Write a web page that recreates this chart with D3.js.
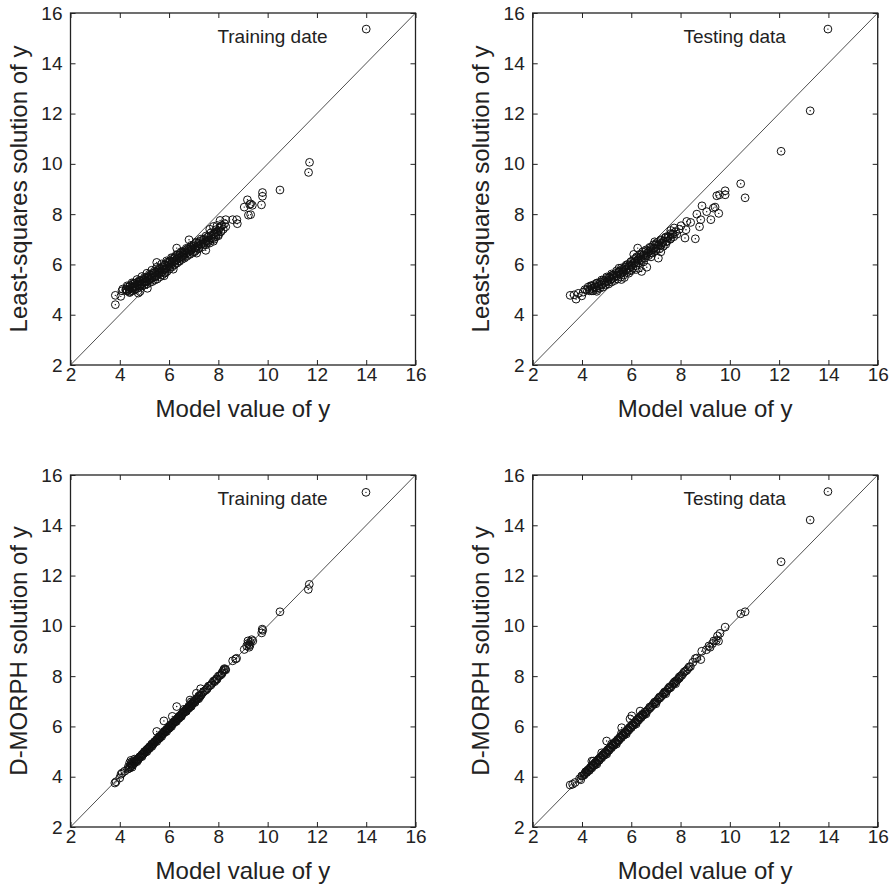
<!DOCTYPE html>
<html>
<head>
<meta charset="utf-8">
<script src="https://cdn.jsdelivr.net/npm/d3@7"></script>
<style>
  html, body { margin: 0; padding: 0; background: #fff; }
  svg { display: block; font-family: "Liberation Sans", Arial, Helvetica, sans-serif; }
</style>
</head>
<body>
<svg id="chart" width="895" height="889"></svg>
<script>
// ---------------- data ----------------
const tickValues = [2, 4, 6, 8, 10, 12, 14, 16];
const axisDomain = [2, 16];
const xTitle = "Model value of y";
const yTitles = ["Least-squares solution of y", "Least-squares solution of y", "D-MORPH solution of y", "D-MORPH solution of y"];
const notes = ["Training date", "Testing data", "Training date", "Testing data"];

// [model value, solution value]
const lsTraining = [
  [14.0,15.36],[11.70,10.06],[11.66,9.66],[10.5,8.96],[9.79,8.86],[9.79,8.71],[9.75,8.37],[9.18,8.57],
  [9.05,8.28],[9.31,8.41],[9.38,8.35],[9.27,8.38],[9.22,7.96],[9.31,7.98],[8.75,7.78],[8.77,7.62],
  [8.58,7.78],[8.30,7.78],[8.07,7.75],[7.80,7.51],[7.49,6.56],[7.12,6.45],[6.81,6.98],[6.31,6.65],
  [6.17,5.81],[5.80,5.55],[5.85,5.68],[5.50,6.08],[4.75,4.86],[3.82,4.40],[3.82,4.77],[4.04,4.73],
  [4.09,4.95],[4.25,4.99],[4.12,5.02],
  [4.25,5.02],[4.30,4.95],[4.32,5.10],[4.38,5.00],[4.40,4.88],[4.42,5.15],[4.48,5.05],[4.50,4.95],
  [4.52,5.20],[4.55,5.10],[4.60,4.98],[4.62,5.25],[4.65,5.12],[4.70,5.05],[4.72,5.30],[4.75,5.18],
  [4.80,5.10],[4.82,4.92],[4.85,5.35],[4.88,5.22],[4.90,5.15],[4.95,5.40],[4.98,5.28],[5.00,5.18],
  [5.05,5.45],[5.08,5.32],[5.10,5.22],[5.12,5.05],[5.15,5.50],[5.20,5.38],[5.22,5.28],[5.25,5.58],
  [5.30,5.45],[5.32,5.32],[5.35,5.65],[5.40,5.50],[5.42,5.38],[5.45,5.70],[5.50,5.55],[5.52,5.42],
  [5.55,5.75],[5.60,5.62],[5.62,5.50],[5.65,5.85],[5.70,5.70],[5.72,5.58],[5.75,5.90],[5.80,5.78],
  [5.82,5.65],[5.85,5.98],[5.90,5.85],[5.92,5.72],[5.95,6.10],[6.00,5.95],[6.02,5.82],[6.05,6.15],
  [6.10,6.02],[6.12,5.90],[6.15,6.25],[6.20,6.10],[6.22,5.98],[6.25,6.30],[6.30,6.18],[6.32,6.05],
  [6.35,6.38],[6.40,6.25],[6.42,6.12],[6.45,6.45],[6.50,6.32],[6.52,6.20],[6.55,6.50],[6.60,6.40],
  [6.62,6.25],[6.65,6.55],[6.70,6.45],[6.72,6.32],[6.75,6.62],[6.80,6.52],[6.85,6.40],[6.88,6.70],
  [6.90,6.60],[6.95,6.48],[7.00,6.78],[7.05,6.65],[7.08,6.55],[7.10,6.85],[7.15,6.72],[7.20,6.62],
  [7.25,6.92],[7.30,6.80],[7.35,6.70],[7.40,7.00],[7.45,6.88],[7.50,6.78],[7.55,7.08],[7.60,6.95],
  [7.65,6.85],[7.70,7.15],[7.75,7.02],[7.80,6.92],[7.85,7.22],[7.90,7.10],[7.95,7.30],[8.00,7.18],
  [8.05,7.45],[8.10,7.30],[8.15,7.55],[8.20,7.40],[8.25,7.62],[8.30,7.50],[7.65,7.40],[7.95,7.55],
  [5.00,5.30],[5.30,5.50],[5.60,5.70],[6.00,6.05],[6.30,6.20],[6.60,6.45],[6.90,6.65],[4.55,5.25],
  [4.40,4.91],[4.62,5.02],[4.80,5.16],[5.03,5.30],[5.20,5.41],[5.43,5.51],[5.60,5.66],[5.78,5.80],
  [6.00,5.90],[6.23,6.01],[6.40,6.15],[6.58,6.30],[6.80,6.40],[7.03,6.50],[7.20,6.65],[7.42,6.79],
  [7.60,6.90],[7.83,7.00],[8.00,7.14],
  [4.30,4.95],[4.50,5.07],[4.70,5.20],[4.90,5.32],[5.10,5.45],[5.30,5.57],[5.50,5.69],[5.70,5.82],
  [5.90,5.94],[6.10,6.07],[6.30,6.19],[6.50,6.31],[6.70,6.44],[6.90,6.56],[7.10,6.69],[7.30,6.81],
  [7.50,6.93],[7.70,7.06],[7.90,7.18],[8.10,7.31],
  [4.40,5.11],[4.60,5.24],[4.80,5.36],[5.00,5.48],[5.20,5.61],[5.40,5.73],[5.60,5.86],[5.80,5.98],
  [6.00,6.10],[6.20,6.23],[6.40,6.35],[6.60,6.48],[6.80,6.60],[7.00,6.72],[7.20,6.85],[7.40,6.97],
  [7.60,7.10],[7.80,7.22],[8.00,7.34],
  [4.30,5.15],[4.50,5.27],[4.70,5.40],[4.90,5.52],[5.10,5.65],[5.30,5.77],[5.50,5.89],[5.70,6.02],
  [5.90,6.14],[6.10,6.27],[6.30,6.39],[6.50,6.51],[6.70,6.64],[6.90,6.76],[7.10,6.89],[7.30,7.01],
  [7.50,7.13],[7.70,7.26],[7.90,7.38],[8.10,7.51]
];

const lsTesting = [
  [13.98,15.36],[13.26,12.11],[12.08,10.50],[10.44,9.21],[10.62,8.65],[9.81,8.93],[9.81,8.77],
  [9.47,8.73],[9.58,8.77],[9.55,8.03],[9.33,8.24],[9.40,8.28],[9.23,7.78],[9.06,8.10],[8.87,8.33],
  [8.66,8.00],[8.82,7.78],[8.77,7.50],[8.60,7.02],[8.41,7.67],[8.25,7.71],[8.22,7.38],[8.02,7.54],
  [8.18,7.05],[7.74,7.45],[7.10,6.25],[6.63,5.89],[6.42,5.72],[5.72,5.48],[6.26,6.65],
  [3.52,4.77],[3.68,4.79],[3.76,4.62],[3.99,4.75],[4.12,5.00],[4.60,4.93],[3.85,4.85],[4.05,4.90],
  [4.20,5.00],[4.25,5.10],[4.30,4.95],[4.35,5.15],[4.40,5.05],[4.45,4.95],[4.50,5.20],[4.55,5.10],
  [4.60,5.00],[4.62,5.25],[4.68,5.15],[4.72,5.05],[4.75,5.30],[4.80,5.20],[4.85,5.10],[4.88,5.38],
  [4.92,5.28],[4.95,5.18],[5.00,5.45],[5.05,5.35],[5.08,5.22],[5.12,5.50],[5.15,5.40],[5.20,5.30],
  [5.25,5.58],[5.30,5.48],[5.32,5.36],[5.38,5.65],[5.42,5.55],[5.45,5.42],[5.50,5.72],[5.55,5.62],
  [5.58,5.50],[5.62,5.80],[5.66,5.70],[5.70,5.58],[5.75,5.90],[5.78,5.80],[5.82,5.68],[5.86,6.00],
  [5.90,5.88],[5.94,5.76],[5.98,6.10],[6.02,5.98],[6.06,5.85],[6.10,6.20],[6.14,6.08],[6.18,5.95],
  [6.22,6.30],[6.26,6.18],[6.30,6.05],[6.34,6.40],[6.38,6.28],[6.42,6.15],[6.46,6.50],[6.50,6.38],
  [6.55,6.25],[6.60,6.58],[6.65,6.46],[6.70,6.35],[6.75,6.68],[6.80,6.55],[6.85,6.45],[6.90,6.78],
  [6.95,6.65],[7.00,6.55],[7.05,6.88],[7.10,6.75],[7.15,6.62],[7.20,6.98],[7.25,6.85],[7.30,6.72],
  [7.38,7.05],[7.45,6.92],[7.50,7.12],[7.58,7.00],[7.65,7.20],[7.72,7.10],[7.80,7.30],[7.85,7.20],
  [5.60,5.40],[5.90,5.65],[6.20,5.80],[6.50,6.10],[6.80,6.30],[7.20,6.50],[6.10,6.40],[5.50,5.85],
  [6.00,5.75],[6.30,5.85],[7.60,7.35],[7.95,7.40],[7.40,6.80],[6.95,6.90],[5.20,5.55],
  [4.40,4.95],[4.60,5.06],[4.80,5.18],[5.00,5.30],[5.20,5.42],[5.40,5.54],[5.60,5.66],[5.80,5.78],
  [6.00,5.92],[6.20,6.05],[6.40,6.19],[6.60,6.33],[6.80,6.47],[7.00,6.61],[7.20,6.75],[7.40,6.89],
  [7.60,7.03],
  [4.30,5.00],[4.50,5.10],[4.70,5.22],[4.90,5.34],[5.10,5.46],[5.30,5.58],[5.50,5.70],[5.70,5.82],
  [5.90,5.95],[6.10,6.08],[6.30,6.22],[6.50,6.36],[6.70,6.50],[6.90,6.64],[7.10,6.78],[7.30,6.92],
  [7.50,7.06],[7.70,7.20],
  [4.40,5.15],[4.60,5.26],[4.80,5.38],[5.00,5.50],[5.20,5.62],[5.40,5.74],[5.60,5.86],[5.80,5.98],
  [6.00,6.12],[6.20,6.25],[6.40,6.39],[6.60,6.53],[6.80,6.67],[7.00,6.81],[7.20,6.95],[7.40,7.09],
  [7.60,7.23]
];

const dmTraining = [
  [13.99,15.31],[11.69,11.65],[11.65,11.45],[10.50,10.56],[9.78,9.87],[9.76,9.72],[9.80,9.82],
  [9.05,9.06],[9.15,9.20],[9.20,9.30],[9.25,9.25],[9.30,9.35],[9.25,9.15],[9.35,9.45],[9.40,9.40],
  [9.20,9.40],[9.28,9.22],[8.74,8.71],[8.58,8.61],[8.70,8.68],[7.11,7.32],[7.28,7.50],[6.31,6.79],
  [5.79,6.22],[6.13,6.40],[5.50,5.80],[6.85,7.05],[3.80,3.75],[3.85,3.80],[4.05,4.10],[4.10,4.15],
  [4.00,3.95],[4.20,4.22],
  [4.35,4.40],[4.40,4.35],[4.45,4.50],[4.50,4.45],[4.55,4.60],[4.60,4.55],[4.65,4.62],[4.70,4.70],
  [4.75,4.68],[4.80,4.78],[4.85,4.80],[4.90,4.88],[4.95,4.90],[5.00,5.00],[5.05,4.98],[5.10,5.08],
  [5.15,5.10],[5.20,5.18],[5.25,5.20],[5.30,5.30],[5.35,5.28],[5.40,5.38],[5.45,5.40],[5.50,5.48],
  [5.55,5.50],[5.60,5.60],[5.65,5.58],[5.70,5.68],[5.75,5.70],[5.80,5.80],[5.85,5.78],[5.90,5.88],
  [5.95,5.90],[6.00,6.00],[6.05,5.98],[6.10,6.08],[6.15,6.10],[6.20,6.20],[6.25,6.18],[6.30,6.28],
  [6.35,6.30],[6.40,6.40],[6.45,6.38],[6.50,6.48],[6.55,6.50],[6.60,6.60],[6.65,6.58],[6.70,6.68],
  [6.75,6.70],[6.80,6.80],[6.85,6.78],[6.90,6.88],[6.95,6.90],[7.00,7.00],[7.05,6.98],[7.10,7.08],
  [7.15,7.10],[7.20,7.20],[7.30,7.25],[7.40,7.38],[7.50,7.45],[7.60,7.60],[7.70,7.65],[7.80,7.80],
  [7.90,7.85],[8.00,8.00],[8.10,8.05],[8.20,8.20],[8.25,8.30],[8.30,8.25],[7.95,7.88],[4.50,4.60],
  [4.45,4.65],[4.60,4.70],[4.40,4.55],[5.20,5.12],[5.60,5.52],[6.00,5.92],[6.40,6.32],[6.80,6.72],
  [7.25,7.18],[7.55,7.50],[7.85,7.78],[8.15,8.10],[6.60,6.68],[6.90,6.98],
  [4.32,4.30],[4.38,4.33],[4.42,4.40],[4.48,4.44],[4.52,4.50],[4.58,4.54],[4.62,4.60],[4.68,4.64],
  [4.72,4.70],[4.78,4.74],[4.82,4.80],[4.88,4.84],[4.92,4.90],[4.98,4.94],[5.02,5.00],[5.08,5.04],
  [5.12,5.10],[5.18,5.14],[5.22,5.20],[5.28,5.24],[5.32,5.30],[5.38,5.34],[5.42,5.40],[5.48,5.44],
  [5.52,5.50],[5.58,5.54],[5.62,5.60],[5.68,5.64],[5.72,5.70],[5.78,5.74],[5.82,5.80],[5.88,5.84],
  [5.92,5.90],[5.98,5.94],[6.02,6.00],[6.08,6.04],[6.12,6.10],[6.18,6.14],[6.22,6.20],[6.28,6.24],
  [6.32,6.30],[6.38,6.34],[6.42,6.40],[6.48,6.44],[6.52,6.50],[6.58,6.54],[6.62,6.60],[6.68,6.64],
  [6.72,6.70],[6.78,6.74],[6.82,6.80],[6.88,6.84],[6.92,6.90],[6.98,6.94],[7.02,7.00],[7.08,7.04],
  [7.12,7.10],[7.18,7.14],[7.22,7.20],[7.28,7.24],[7.35,7.32],[7.45,7.42],[7.55,7.52],[7.65,7.62],
  [7.75,7.72],[7.85,7.82],[7.92,7.90],[8.05,8.02],[8.15,8.14],[8.28,8.27],[8.22,8.26],
  [4.50,4.38],[4.90,4.80],[5.30,5.20],[5.70,5.60],[6.10,6.00],[6.50,6.40],[6.90,6.80],[7.20,7.10],
  [4.70,4.60],[5.10,5.00],[5.50,5.40],[5.90,5.80],[6.30,6.20],[6.70,6.60],[7.05,6.95]
];

const dmTesting = [
  [13.98,15.34],[13.26,14.21],[12.08,12.55],[10.44,10.48],[10.62,10.56],[9.81,9.95],[9.54,9.39],
  [9.50,9.60],[9.60,9.70],[9.45,9.42],[9.35,9.40],[9.30,9.30],[9.20,9.15],[9.15,9.20],[9.05,9.05],
  [8.86,8.99],[8.82,8.66],[8.66,8.72],[8.60,8.70],[8.50,8.55],[6.02,6.42],[6.36,6.61],[5.61,5.95],
  [5.00,5.42],[5.95,6.30],[4.46,4.62],[3.52,3.67],[3.62,3.70],[3.72,3.77],[3.90,3.92],[3.99,4.03],
  [3.95,3.88],
  [4.10,4.10],[4.15,4.20],[4.20,4.18],[4.25,4.28],[4.30,4.25],[4.35,4.38],[4.40,4.35],[4.45,4.48],
  [4.50,4.45],[4.55,4.58],[4.60,4.55],[4.65,4.68],[4.70,4.65],[4.75,4.78],[4.80,4.75],[4.85,4.88],
  [4.90,4.85],[4.95,4.98],[5.00,4.95],[5.05,5.08],[5.10,5.05],[5.15,5.18],[5.20,5.15],[5.25,5.28],
  [5.30,5.25],[5.35,5.38],[5.40,5.35],[5.45,5.48],[5.50,5.45],[5.55,5.58],[5.60,5.55],[5.65,5.68],
  [5.70,5.65],[5.75,5.78],[5.80,5.75],[5.85,5.88],[5.90,5.85],[5.95,5.98],[6.00,5.95],[6.05,6.08],
  [6.10,6.05],[6.15,6.18],[6.20,6.15],[6.25,6.28],[6.30,6.25],[6.35,6.38],[6.40,6.35],[6.45,6.48],
  [6.50,6.45],[6.60,6.58],[6.70,6.68],[6.80,6.78],[6.90,6.90],[7.00,6.98],[7.10,7.10],[7.20,7.18],
  [7.30,7.30],[7.40,7.38],[7.50,7.50],[7.60,7.55],[7.70,7.70],[7.80,7.80],[7.90,7.88],[8.00,8.00],
  [8.10,8.10],[8.20,8.20],[8.30,8.30],[8.40,8.38],[4.40,4.62],[4.80,4.95],[5.20,5.30],[5.60,5.72],
  [6.55,6.50],[6.75,6.72],[6.95,6.92],[7.15,7.12],[7.35,7.32],[7.55,7.52],[7.75,7.72],[7.95,7.92],
  [4.02,4.04],[4.08,4.06],[4.12,4.14],[4.18,4.16],[4.22,4.24],[4.28,4.26],[4.32,4.34],[4.38,4.36],
  [4.42,4.44],[4.48,4.46],[4.52,4.54],[4.58,4.56],[4.62,4.64],[4.68,4.66],[4.72,4.74],[4.78,4.76],
  [4.82,4.84],[4.88,4.86],[4.92,4.94],[4.98,4.96],[5.02,5.04],[5.08,5.06],[5.12,5.14],[5.18,5.16],
  [5.22,5.24],[5.28,5.26],[5.32,5.34],[5.38,5.36],[5.42,5.44],[5.48,5.46],[5.52,5.54],[5.58,5.56],
  [5.62,5.64],[5.68,5.66],[5.72,5.74],[5.78,5.76],[5.82,5.84],[5.88,5.86],[5.92,5.94],[5.98,5.96],
  [6.02,6.04],[6.08,6.06],[6.12,6.14],[6.18,6.16],[6.22,6.24],[6.28,6.26],[6.32,6.34],[6.38,6.36],
  [6.42,6.44],[6.48,6.46],[6.55,6.57],[6.65,6.63],[6.75,6.77],[6.85,6.83],[6.95,6.97],[7.05,7.03],
  [7.15,7.17],[7.25,7.23],[7.35,7.37],[7.45,7.43],[7.55,7.57],[7.65,7.63],[7.75,7.77],[7.85,7.83],
  [7.95,7.97],[8.05,8.03],[8.15,8.17],[8.25,8.23],[8.35,8.37],
  [4.60,4.50],[5.00,4.90],[5.40,5.30],[5.80,5.70],[6.20,6.10],[6.60,6.50],[7.00,6.90],[7.40,7.30],
  [7.80,7.70]
];

const panelData = [lsTraining, lsTesting, dmTraining, dmTesting];

// ---------------- layout ----------------
const W = 345, H = 352;
const origins = [[70.5, 13], [532.7, 13], [70.5, 475], [532.7, 475]];

const svg = d3.select("#chart");
const x = d3.scaleLinear().domain(axisDomain).range([0, W]);
const y = d3.scaleLinear().domain(axisDomain).range([H, 0]);

panelData.forEach((data, i) => {
  const g = svg.append("g").attr("transform", `translate(${origins[i][0]},${origins[i][1]})`);

  const bx = g.append("g").attr("transform", `translate(0,${H})`)
    .call(d3.axisBottom(x).tickValues(tickValues).tickSizeInner(-5).tickSizeOuter(0).tickPadding(2).tickFormat(d3.format("d")));
  const ly = g.append("g")
    .call(d3.axisLeft(y).tickValues(tickValues).tickSizeInner(-5).tickSizeOuter(0).tickPadding(8).tickFormat(d3.format("d")));
  const tx = g.append("g")
    .call(d3.axisTop(x).tickValues(tickValues).tickSizeInner(-5).tickSizeOuter(0).tickFormat(""));
  const ry = g.append("g").attr("transform", `translate(${W},0)`)
    .call(d3.axisRight(y).tickValues(tickValues).tickSizeInner(-5).tickSizeOuter(0).tickFormat(""));

  [bx, ly, tx, ry].forEach(a => {
    a.select(".domain").remove();
    a.selectAll(".tick line").attr("stroke", "#222").attr("stroke-width", 1);
    a.selectAll(".tick text").attr("fill", "#222").style("font-size", "19px")
      .style("font-family", "'Liberation Sans', Arial, Helvetica, sans-serif");
  });

  g.append("rect").attr("x", 0).attr("y", 0).attr("width", W).attr("height", H)
    .attr("fill", "none").attr("stroke", "#222").attr("stroke-width", 1.3);

  g.append("line")
    .attr("x1", x(axisDomain[0])).attr("y1", y(axisDomain[0]))
    .attr("x2", x(axisDomain[1])).attr("y2", y(axisDomain[1]))
    .attr("stroke", "#222").attr("stroke-width", 0.8);

  const pts = g.append("g");
  pts.selectAll("circle.ring").data(data).join("circle")
    .attr("class", "ring")
    .attr("cx", d => x(d[0])).attr("cy", d => y(d[1])).attr("r", 3.9)
    .attr("fill", "none").attr("stroke", "#111").attr("stroke-width", 1.0);
  pts.selectAll("circle.dot").data(data).join("circle")
    .attr("class", "dot")
    .attr("cx", d => x(d[0])).attr("cy", d => y(d[1])).attr("r", 0.7)
    .attr("fill", "#111");

  g.append("text").attr("x", 202).attr("y", 30)
    .attr("text-anchor", "middle").attr("fill", "#222")
    .style("font-size", "19px").text(notes[i]);

  g.append("text").attr("x", W / 2).attr("y", H + 52)
    .attr("text-anchor", "middle").attr("fill", "#222")
    .style("font-size", "24px").text(xTitle);
  g.append("text").attr("transform", `translate(-44,${H / 2}) rotate(-90)`)
    .attr("text-anchor", "middle").attr("fill", "#222")
    .style("font-size", "24px").text(yTitles[i]);
});
</script>
</body>
</html>
